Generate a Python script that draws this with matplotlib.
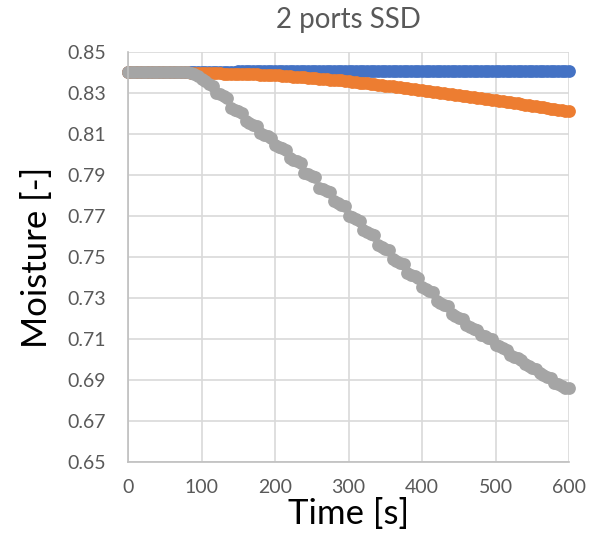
import numpy as np
from matplotlib import pyplot as plt

# time axis, one sample every 5 s
time_s = np.arange(0, 601, 5)

moisture_blue = [
    0.8400, 0.8400, 0.8400, 0.8400, 0.8400, 0.8400, 0.8400, 0.8400, 0.8400, 0.8400,
    0.8400, 0.8400, 0.8400, 0.8400, 0.8400, 0.8400, 0.8400, 0.8400, 0.8401, 0.8401,
    0.8401, 0.8402, 0.8402, 0.8402, 0.8403, 0.8403, 0.8403, 0.8404, 0.8404, 0.8404,
    0.8405, 0.8405, 0.8405, 0.8405, 0.8406, 0.8406, 0.8406, 0.8406, 0.8407, 0.8407,
    0.8407, 0.8407, 0.8407, 0.8408, 0.8408, 0.8408, 0.8408, 0.8408, 0.8408, 0.8408,
    0.8408, 0.8408, 0.8408, 0.8408, 0.8408, 0.8408, 0.8408, 0.8408, 0.8408, 0.8408,
    0.8408, 0.8408, 0.8408, 0.8408, 0.8408, 0.8408, 0.8408, 0.8408, 0.8408, 0.8408,
    0.8408, 0.8408, 0.8408, 0.8408, 0.8408, 0.8408, 0.8408, 0.8408, 0.8408, 0.8408,
    0.8408, 0.8408, 0.8408, 0.8408, 0.8408, 0.8408, 0.8408, 0.8408, 0.8408, 0.8408,
    0.8408, 0.8408, 0.8408, 0.8408, 0.8408, 0.8408, 0.8408, 0.8408, 0.8408, 0.8408,
    0.8408, 0.8408, 0.8408, 0.8408, 0.8408, 0.8408, 0.8408, 0.8408, 0.8408, 0.8408,
    0.8408, 0.8408, 0.8408, 0.8408, 0.8408, 0.8408, 0.8408, 0.8408, 0.8408, 0.8408,
    0.8408,
]

moisture_orange = [
    0.8400, 0.8400, 0.8400, 0.8400, 0.8400, 0.8400, 0.8400, 0.8400, 0.8400, 0.8400,
    0.8400, 0.8400, 0.8400, 0.8400, 0.8400, 0.8400, 0.8400, 0.8399, 0.8399, 0.8399,
    0.8398, 0.8398, 0.8397, 0.8397, 0.8396, 0.8396, 0.8395, 0.8395, 0.8394, 0.8394,
    0.8393, 0.8393, 0.8392, 0.8392, 0.8391, 0.8391, 0.8390, 0.8390, 0.8389, 0.8389,
    0.8388, 0.8386, 0.8385, 0.8383, 0.8382, 0.8380, 0.8379, 0.8377, 0.8376, 0.8374,
    0.8373, 0.8371, 0.8370, 0.8368, 0.8367, 0.8365, 0.8364, 0.8362, 0.8361, 0.8359,
    0.8358, 0.8356, 0.8354, 0.8351, 0.8349, 0.8347, 0.8345, 0.8343, 0.8340, 0.8338,
    0.8336, 0.8334, 0.8332, 0.8329, 0.8327, 0.8325, 0.8323, 0.8321, 0.8318, 0.8316,
    0.8314, 0.8312, 0.8309, 0.8307, 0.8304, 0.8302, 0.8299, 0.8297, 0.8294, 0.8292,
    0.8290, 0.8287, 0.8285, 0.8282, 0.8280, 0.8277, 0.8275, 0.8272, 0.8270, 0.8267,
    0.8265, 0.8262, 0.8260, 0.8257, 0.8254, 0.8252, 0.8249, 0.8246, 0.8243, 0.8241,
    0.8238, 0.8235, 0.8233, 0.8230, 0.8227, 0.8224, 0.8222, 0.8219, 0.8216, 0.8214,
    0.8211,
]

moisture_gray = [
    0.8400, 0.8400, 0.8400, 0.8400, 0.8400, 0.8400, 0.8400, 0.8400, 0.8400, 0.8400,
    0.8400, 0.8400, 0.8400, 0.8400, 0.8400, 0.8400, 0.8400, 0.8398, 0.8392, 0.8383,
    0.8370, 0.8358, 0.8345, 0.8333,
    0.8302, 0.8294, 0.8286, 0.8278,
    0.8227, 0.8219, 0.8211, 0.8203,
    0.8162, 0.8154, 0.8146, 0.8138,
    0.8104, 0.8096, 0.8088, 0.8080,
    0.8047, 0.8039, 0.8031, 0.8023,
    0.7982, 0.7974, 0.7966, 0.7958,
    0.7912, 0.7904, 0.7896, 0.7888,
    0.7839, 0.7831, 0.7823, 0.7815,
    0.7772, 0.7764, 0.7756, 0.7748,
    0.7702, 0.7694, 0.7686, 0.7678,
    0.7630, 0.7622, 0.7614, 0.7606,
    0.7557, 0.7549, 0.7541, 0.7533,
    0.7489, 0.7481, 0.7473, 0.7465,
    0.7422, 0.7414, 0.7406, 0.7398,
    0.7352, 0.7344, 0.7336, 0.7328,
    0.7284, 0.7276, 0.7268, 0.7260,
    0.7220, 0.7212, 0.7204, 0.7196,
    0.7167, 0.7159, 0.7151, 0.7143,
    0.7122, 0.7114, 0.7106, 0.7098,
    0.7072, 0.7064, 0.7056, 0.7048,
    0.7022, 0.7014, 0.7006, 0.6998,
    0.6977, 0.6969, 0.6961, 0.6953,
    0.6932, 0.6924, 0.6916, 0.6908,
    0.6887, 0.6879, 0.6871, 0.6863,
    0.6860,
]

x_ticks = [0, 100, 200, 300, 400, 500, 600]
y_ticks = [0.65, 0.67, 0.69, 0.71, 0.73, 0.75, 0.77, 0.79, 0.81, 0.83, 0.85]

plt.rcParams["font.family"] = ["Lato", "DejaVu Sans"]

fig = plt.figure(figsize=(6.01, 5.36), dpi=100)
ax = fig.add_axes([0.213, 0.138, 0.734, 0.765])

series = [
    (moisture_blue, "#4472C4"),
    (moisture_orange, "#ED7D31"),
    (moisture_gray, "#A5A5A5"),
]
for values, color in series:
    ax.plot(time_s, values, linestyle="none", marker="o", markersize=9.2,
            color=color, markeredgewidth=0, clip_on=False)

ax.set_xlim(0, 600)
ax.set_ylim(0.65, 0.85)
ax.set_xticks(x_ticks)
ax.set_yticks(y_ticks)
ax.set_yticklabels([f"{v:.2f}" for v in y_ticks])

ax.grid(True, color="#d9d9d9", linewidth=1.2)
ax.set_axisbelow(True)
for side in ("top", "right"):
    ax.spines[side].set_visible(False)
for side in ("left", "bottom"):
    ax.spines[side].set_color("#bfbfbf")
    ax.spines[side].set_linewidth(1.2)

ax.tick_params(axis="x", length=0, labelsize=14, labelcolor="#595959", pad=12)
ax.tick_params(axis="y", length=0, labelsize=14, labelcolor="#595959", pad=16)

ax.set_title("2 ports SSD", fontsize=20, color="#595959", pad=17)
ax.set_xlabel("Time [s]", fontsize=25, color="black", labelpad=2)
ax.set_ylabel("Moisture [-]", fontsize=25, color="black", labelpad=10)

fig.savefig("out.png", dpi=100)
